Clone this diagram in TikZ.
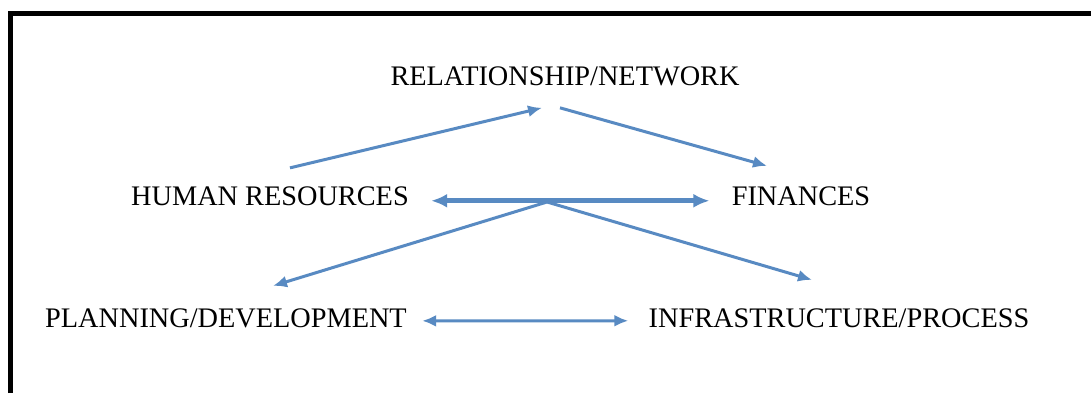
\documentclass[tikz,border=0pt]{standalone}
\usepackage{fontspec}
\setmainfont{Liberation Serif}
\usepackage{tikz}
\usetikzlibrary{calc}
\usetikzlibrary{arrows.meta}
\tikzset{>={Latex[length=7pt, width=6pt]}}
\definecolor{linkblue}{RGB}{88,138,194}

\begin{document}
\begin{tikzpicture}[x=0.5pt, y=-0.5pt,
    area/.style={inner sep=0pt, anchor=base, font=\fontsize{14.15pt}{17pt}\selectfont},
    link/.style={linkblue, line width=1.5pt, ->}]
    \useasboundingbox (0, 0) rectangle (1091, 393);
    \draw[line width=2.3pt](10.5, 393)--(10.5, 13.5)--(1091, 13.5);

    \node[area] (rel) at (565, 85) {RELATIONSHIP/NETWORK};
    \node[area] (hr) at (270, 205) {HUMAN RESOURCES};
    \node[area] (fin) at (801, 205) {FINANCES};
    \node[area] (plan) at (226, 327) {PLANNING/DEVELOPMENT};
    \node[area] (infra) at (839, 327) {INFRASTRUCTURE/PROCESS};
    \coordinate (hub) at (547, 202);

    \draw[link]($(hr.north)+(20, -18)$)--($(rel.south)+(-23, 22)$);
    \draw[link]($(rel.south)+(-5, 22)$)--($(fin.north)+(-34, -20)$);
    \draw[link, <->, line width=2.5pt, >={Latex[length=8pt, width=7pt]}]
        ($(hr.east)+(22, 5)$)--($(fin.west)+(-22, 5)$);
    \draw[link](hub)--($(plan.north)+(47, -22)$);
    \draw[link](hub)--($(infra.north)+(-27, -28)$);
    \draw[link, <->]($(plan.east)+(15, 3)$)--($(infra.west)+(-20, 3)$);
\end{tikzpicture}
\end{document}
